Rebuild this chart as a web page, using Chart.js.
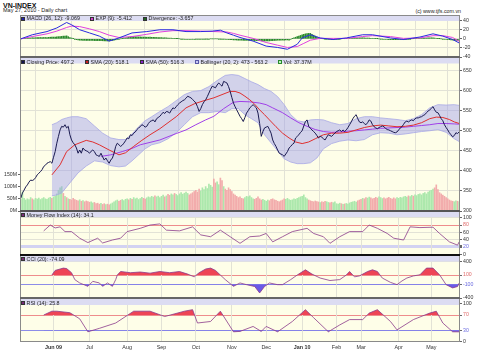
<!DOCTYPE html>
<html><head><meta charset="utf-8">
<script src="https://cdn.jsdelivr.net/npm/chart.js@4.4.1/dist/chart.umd.min.js"></script>
<style>
html,body{margin:0;padding:0;background:#fff;width:480px;height:357px;overflow:hidden;font-family:"Liberation Sans",Arial,sans-serif}
#wrap{position:relative;width:480px;height:357px}
canvas{position:absolute;left:0}
.t{position:absolute;white-space:nowrap;color:#111;line-height:1}
.leg{position:absolute;height:6px;font-size:5.3px;line-height:6px;color:#222;white-space:nowrap}
.sq{display:inline-block;width:4px;height:4px;margin-right:1.6px;vertical-align:-0.3px;box-sizing:border-box;border:0.6px solid #333}
</style></head>
<body><div id="wrap">
<div class="t" style="left:3px;top:1.5px;font-size:7px;font-weight:bold">VN-INDEX</div>
<div class="t" style="left:3px;top:8px;font-size:5.5px;color:#222">May 27, 2010 - Daily chart</div>
<div class="t" style="right:19px;top:8.5px;font-size:5.3px;color:#222">(c) www.tjfs.com.vn</div>
</div>
<script>
// ---------- DATA (one entry per trading day, May 2009 - May 27, 2010) ----------
const monthDays = [20,42,65,86,107,129,150,172,193,208,231,251];
const monthLabels = ['Jun 09','Jul','Aug','Sep','Oct','Nov','Dec','Jan 10','Feb','Mar','Apr','May'];

const closePrice = [
 332,345,352,360,365,372,377,376,378,383,390,394,398,403,411,414,419,421,423,419,
 434,448,469,486,502,511,509,515,507,511,490,477,470,465,457,444,452,444,457,452,450,448,
 444,449,452,448,440,438,436,444,435,427,432,425,419,427,432,444,461,469,465,461,464,469,475,
 482,480,490,488,494,497,503,507,510,515,513,509,511,518,523,525,527,522,530,533,536,
 541,546,543,548,547,544,551,557,555,560,565,569,572,575,577,581,586,584,582,578,574,
 569,560,548,555,565,572,577,585,594,603,611,609,607,614,619,615,611,623,621,619,610,598,
 583,569,560,552,544,536,530,523,533,544,550,557,561,565,561,557,544,518,486,498,507,
 509,511,503,494,477,468,461,452,444,442,440,436,442,448,457,461,466,469,482,486,490,496,
 500,512,523,527,511,506,502,498,494,488,482,486,484,480,477,484,490,488,486,490,494,
 498,500,502,498,502,498,502,508,515,522,530,536,540,530,522,
 520,522,518,515,520,527,524,515,510,507,505,508,510,512,510,506,503,502,500,498,496,495,497,
 502,507,510,516,522,524,522,525,527,525,530,532,532,534,535,538,540,545,549,552,
 556,560,552,546,545,538,530,525,515,508,502,495,490,485,488,495,493,497.2];

const volumeM = [
 48,78,52,45,50,47,55,50,46,52,49,53,47,51,55,50,48,53,56,52,
 58,62,70,85,95,100,72,60,55,50,48,45,52,47,44,42,46,40,43,38,41,39,
 36,38,33,35,30,32,28,31,27,30,26,28,25,29,33,38,42,45,40,44,47,43,48,
 50,46,52,48,55,50,53,47,51,56,52,49,54,58,55,60,57,62,58,61,55,
 60,65,58,62,68,64,70,66,72,68,63,70,75,69,73,78,72,66,70,75,80,
 85,78,90,82,95,88,100,92,110,105,98,131,115,120,108,135,125,100,90,85,95,88,
 80,70,65,60,55,58,52,50,55,60,58,62,55,50,48,52,58,50,45,48,44,
 40,45,42,48,50,46,44,40,38,42,45,50,48,52,47,44,46,50,48,52,55,58,
 60,66,55,50,45,42,40,38,41,39,37,35,38,36,40,38,35,33,36,34,38,
 30,28,32,30,27,29,31,28,33,36,38,40,37,42,45,
 48,52,50,55,53,57,54,50,52,56,53,58,55,51,54,50,53,56,52,49,54,50,55,
 52,56,54,58,60,57,62,59,64,61,66,63,68,70,66,72,75,70,78,82,
 85,90,95,107,88,75,70,65,60,55,50,45,42,40,38,42,40,37.37];

// [trading day, value]
const sma20 = [[19,390],[24,415],[28,448],[33,465],[40,476],[44,472],[48,465],[54,452],[60,440],[64,445],[69,461],[74,476],[79,490],[85,505],[90,520],[95,535],[101,557],[106,567],[112,575],[118,582],[123,590],[128,598],[131,598],[134,594],[137,586],[140,577],[143,566],[146,552],[149,540],[152,527],[156,510],[160,494],[164,482],[168,472],[172,468],[176,472],[180,480],[185,490],[190,494],[195,494],[200,496],[205,502],[210,508],[215,512],[220,514],[225,512],[230,510],[235,511],[240,514],[245,520],[250,530],[254,534],[258,533],[262,528],[265,522],[268,518.1]];
const sma50 = [[49,436],[55,440],[62,448],[68,456],[73,465],[79,471],[85,477],[90,485],[95,493],[101,502],[107,515],[113,527],[118,536],[124,555],[130,571],[134,573],[140,572],[146,569],[150,565],[154,557],[160,545],[165,532],[170,520],[175,511],[180,503],[185,498],[190,496],[195,497],[200,499],[205,500],[210,502],[215,504],[220,506],[225,507],[230,508],[235,509],[240,511],[245,513],[250,515],[255,518],[260,518],[265,517],[268,516.3]];
const bbUpper = [[19,515],[22,520],[25,528],[28,532],[31,535],[35,535],[40,530],[45,512],[50,494],[55,482],[60,478],[64,478],[68,492],[72,510],[76,525],[80,535],[85,548],[90,560],[95,575],[100,590],[105,598],[110,600],[115,610],[120,625],[125,638],[129,640],[133,638],[137,630],[141,622],[145,615],[149,605],[153,598],[157,585],[161,565],[165,540],[169,525],[173,522],[177,527],[181,528],[185,527],[190,520],[195,515],[200,518],[205,530],[210,535],[215,535],[220,532],[225,530],[230,528],[235,525],[240,530],[245,540],[250,557],[255,565],[260,564],[265,565],[268,563.2]];
const bbLower = [[19,338],[22,340],[25,345],[28,360],[31,375],[35,395],[40,412],[45,425],[50,422],[55,413],[60,410],[64,412],[68,425],[72,440],[76,455],[80,465],[85,470],[90,480],[95,495],[100,515],[105,535],[110,545],[115,545],[120,548],[125,545],[129,555],[133,555],[137,540],[141,530],[145,520],[149,490],[153,470],[157,450],[161,430],[165,422],[169,418],[173,418],[177,420],[181,432],[185,455],[190,468],[195,474],[200,477],[205,475],[210,478],[215,490],[220,495],[225,494],[230,490],[235,492],[240,495],[245,498],[250,500],[255,503],[260,496],[265,480],[268,473]];

const macdLine = [[0,0],[7,9],[16,16],[22,24],[28,36],[31,31],[36,20],[42,13],[48,6],[54,-5],[60,2],[68,13],[77,16],[85,20],[93,20],[101,16],[110,16],[117,17],[122,19],[126,13],[130,8],[134,3],[142,-5],[150,-16],[157,-19],[163,-23],[169,-12],[172,2],[177,9],[183,2],[191,-1.5],[199,2],[209,9],[215,9],[226,2],[234,-1.5],[244,4],[252,11],[258,6],[264,-1.5],[268,-9.069]];
const macdSignal = [[0,0],[7,5],[16,11],[22,17],[28,25],[31,28],[36,27],[42,22],[48,16],[54,8],[60,3],[68,5],[77,10],[85,15],[93,18],[101,18],[110,17],[118,16],[126,15],[130,12],[134,8],[142,1],[150,-8],[157,-14],[163,-19],[169,-17],[173,-10],[177,-3],[183,1],[191,1],[199,1],[209,5],[215,7],[226,5],[234,1],[244,2],[252,7],[258,7],[264,3],[268,-5.412]];
const macdDiv = [
 0,0.3,0.6,0.9,1.2,1.5,1.8,2.4, 2.4,2.4,2.7,2.7,3,3,3,3,3, 3.3,3.6,3.6,3.9,3.9,4.2, 4.8,5.1,5.4,6,6.3,6.6, 4.8,3,1.8, 0.6,-0.6,-1.8,-2.4,-3,
 -3,-3.3,-3.3,-3.6,-3.6,-3.6, -3.6,-3.6,-3.9,-3.9,-3.9,-3.9, -4.2,-4.2,-4.5,-4.5,-4.8,-4.8, -4.2,-3.6,-3,-2.1,-1.2,-0.6,
 0,0.6,1.5,2.1,3,3.6,4.2,4.8, 4.8,4.5,4.5,4.2,4.2,3.9,3.9,3.6,3.6, 3.6,3.6,3.3,3.3,3.3,3,3,3, 2.7,2.4,2.4,2.1,1.8,1.5,1.5,1.2,
 0.9,0.6,0.3,0,-0.3,-0.6,-0.9,-1.2, -1.2,-1.2,-0.9,-0.9,-0.9,-0.6,-0.6,-0.6,-0.6, -0.6,-0.6,-0.3,-0.3,-0.3,0,0,0,
 0,0,-0.3,-0.3,-0.6,-0.6,-0.9,-1.2, -1.5,-1.8,-2.1,-2.4,-2.4,-2.7,-3,-3, -3,-3.3,-3.3,-3.3,-3.6,-3.6,-3.6,-3.6,
 -3.9,-3.9,-4.2,-4.2,-4.5,-4.5,-4.8,-4.8, -4.8,-4.5,-4.2,-3.9,-3.6,-3.3,-3, -3,-3,-2.7,-2.7,-2.4,-2.4,
 -3,-1,0.5,2,3.5,5, 6,7.5,9,10,11,11.5,12,12, 10,8,6,4,2.5,1, 0.3,0,-0.3,-0.6,-0.9,-1.2,-1.5,-1.5,
 -1.2,-0.9,-0.6,-0.3,0,0.3,0.3,0.6, 0.9,0.9,1.2,1.2,1.5,1.8,1.8,2.1,2.1,2.4, 2.1,1.8,1.8,1.5,1.2,1.2,
 0.9,0.6,0.3,0,-0.3,-0.6,-0.9,-1.2,-1.5,-1.8,-1.8, -1.8,-1.8,-1.8,-1.8,-1.5,-1.5,-1.5,-1.5,
 -1.2,-0.9,-0.6,-0.3,0,0.3,0.6,0.9,1.2,1.2, 1.5,1.5,1.8,1.8,2.1,2.1,2.4,2.4, 1.8,1.2,0.6,0.3,0,-0.6,
 -0.9,-1.2,-1.5,-1.8,-2.4,-2.7, -3.2,-3.5,-3.6,-3.657];

const mfi = [[14,64],[18,80],[21,72],[24,75],[27,62],[31,62],[36,44],[41,32],[47,44],[50,31],[56,39],[61,44],[65,62],[73,71],[79,80],[85,83],[89,66],[97,64],[105,75],[110,53],[116,48],[122,66],[128,48],[134,30],[140,48],[146,50],[150,57],[154,34],[160,48],[166,62],[175,71],[179,57],[185,48],[189,30],[195,48],[201,62],[209,62],[213,80],[218,71],[224,57],[228,44],[234,39],[238,75],[244,73],[252,74],[256,57],[262,34],[267,25],[268,34.1]];
const cci = [[19,100],[21,200],[24,230],[26,250],[28,240],[31,150],[33,0],[36,-73],[41,-146],[44,-38],[48,-73],[50,-146],[53,-73],[56,-146],[58,0],[59,100],[61,176],[67,150],[73,165],[79,140],[85,176],[91,150],[97,176],[102,120],[106,60],[109,150],[113,230],[116,250],[119,200],[122,100],[125,0],[130,-146],[134,-73],[138,-110],[143,-150],[146,-290],[149,-150],[152,-73],[157,-110],[160,-110],[165,0],[169,100],[174,213],[178,120],[183,34],[189,-20],[195,0],[199,100],[201,176],[204,60],[207,80],[212,176],[215,213],[218,176],[221,34],[226,-60],[230,-110],[233,-30],[236,34],[240,80],[244,105],[248,250],[252,250],[256,105],[260,-110],[264,-180],[267,-150],[268,-74.09]];
const rsi = [[14,70],[19,80],[22,80],[30,76],[36,60],[41,26],[48,35],[58,49],[69,80],[79,80],[88,66],[100,80],[105,84],[108,49],[116,53],[122,80],[130,26],[134,27],[142,40],[147,27],[150,40],[157,26],[166,53],[174,84],[179,63],[188,26],[195,44],[201,58],[209,58],[213,75],[218,84],[226,53],[230,31],[240,58],[250,75],[254,80],[258,49],[264,26],[268,25.8]];

// ---------- RENDER ----------
const dayCount = closePrice.length;
const FONT = '"Liberation Sans", Arial, sans-serif';
const wrap = document.getElementById('wrap');
const pts = a => a.map(p => ({x:p[0], y:p[1]}));
const daily = (a, k) => a.map((v, i) => ({x:i, y:v * (k || 1)}));

const panelPlugin = {
  id:'panelBg',
  beforeDraw(chart, args, o){
    const {ctx, chartArea:a} = chart;
    ctx.save(); ctx.fillStyle = '#fefee8';
    ctx.fillRect(a.left, a.top, a.width, a.height); ctx.restore();
  },
  beforeDatasetsDraw(chart, args, o){
    const {ctx, chartArea:a} = chart;
    ctx.save(); ctx.fillStyle = '#dcdcf2';
    ctx.fillRect(a.left, a.top, a.width, o.band || 6); ctx.restore();
  },
  afterDraw(chart, args, o){
    const {ctx, chartArea:a} = chart;
    ctx.save();
    ctx.strokeStyle = '#8a8a8a'; ctx.lineWidth = 1;
    ctx.strokeRect(a.left + 0.5, a.top + 0.5, a.width - 1, a.height - 1);
    if (o.topLine) {
      ctx.strokeStyle = o.topLine.color; ctx.lineWidth = o.topLine.width;
      ctx.beginPath(); ctx.moveTo(a.left, a.top); ctx.lineTo(a.right, a.top); ctx.stroke();
    }
    ctx.restore();
  }
};

function xScale(isLast, bottom){
  return {
    type:'linear', min:-0.5, max:dayCount-0.5, offset:false,
    afterBuildTicks(s){ s.ticks = monthDays.map(v => ({value:v})); },
    afterFit(s){ s.height = isLast ? 357 - bottom : 0; },
    grid:{color:'#e2e2d6', lineWidth:1, drawTicks:false},
    border:{display:false},
    ticks:{display:isLast, padding:2, maxRotation:0, autoSkip:false, color:'#333',
      font: c => ({size:5.4, family:FONT, weight:(c.tick && (c.tick.value===20 || c.tick.value===172)) ? 'bold' : 'normal'}),
      callback: v => monthLabels[monthDays.indexOf(v)] }
  };
}

function yRight(min, max, ticks, opt){
  opt = opt || {};
  return {
    position:'right', min, max,
    afterBuildTicks(s){ s.ticks = ticks.map(v => ({value:v})); },
    afterFit(s){ s.width = 20; },
    grid:{ color: c => (opt.gridColor && opt.gridColor(c.tick.value)) || '#e2e2d6',
           lineWidth: c => (opt.gridWidth && opt.gridWidth(c.tick.value)) || 1,
           tickLength:2, tickColor:'#666' },
    border:{display:false},
    ticks:{padding:1, autoSkip:false, color: c => (opt.labelColor && opt.labelColor(c.tick.value)) || '#333',
           font:{size:5.2, family:FONT}, callback: v => String(v)}
  };
}

function panel(top, bottom, datasets, scales, plug, isLast, padLeft){
  const cTop = top - 10;
  const cH = (isLast ? 357 : bottom + 10) - cTop;
  const cv = document.createElement('canvas');
  cv.width = 480; cv.height = cH;
  cv.style.top = cTop + 'px'; cv.style.width = '480px'; cv.style.height = cH + 'px';
  wrap.appendChild(cv);
  scales.x = xScale(isLast, bottom);
  return new Chart(cv, {
    data:{datasets},
    options:{
      responsive:false, animation:false, devicePixelRatio:1,
      layout:{padding:{top:10, bottom:isLast ? 0 : 10, left:padLeft, right:0}},
      plugins:{legend:{display:false}, tooltip:{enabled:false}, panelBg:plug},
      elements:{point:{radius:0}, line:{tension:0}},
      scales
    },
    plugins:[panelPlugin]
  });
}

function legend(y, items){
  items.forEach(it => {
    const d = document.createElement('div');
    d.className = 'leg';
    d.style.left = it.x + 'px'; d.style.top = (y - 3) + 'px';
    d.innerHTML = '<span class="sq" style="background:' + it.c + ';border-color:' + (it.b || '#333') + '"></span>' + it.t;
    wrap.appendChild(d);
  });
}

const redT = '#ee8c8c', blueT = '#8c8ce8';
const lineIndic = '#8a3a8a';

// MACD
panel(15, 57, [
  {type:'bar', data:daily(macdDiv), backgroundColor:'#2a8a2a', barThickness:0.9, order:5},
  {type:'line', data:pts(macdSignal), borderColor:'#e040e0', borderWidth:1, order:2},
  {type:'line', data:pts(macdLine), borderColor:'#2a2ae0', borderWidth:1, order:1}
], {y: yRight(-40, 52.5, [-40,-20,0,20,40])}, {band:6}, false, 20);

// PRICE + VOLUME
panel(57, 211, [
  {type:'bar', yAxisID:'vol', data:daily(volumeM, 1e6),
   backgroundColor: closePrice.map((c, i) => (i === 0 || c >= closePrice[i-1]) ? '#ace8ac' : '#f2acac'),
   barThickness:1, order:10},
  {type:'line', yAxisID:'y', data:pts(bbUpper), borderColor:'#a8a8e6', borderWidth:0.8, backgroundColor:'rgba(150,150,235,0.42)', fill:'+1', order:8},
  {type:'line', yAxisID:'y', data:pts(bbLower), borderColor:'#a8a8e6', borderWidth:0.8, fill:false, order:7},
  {type:'line', yAxisID:'y', data:pts(sma50), borderColor:'#a040e8', borderWidth:1, order:4},
  {type:'line', yAxisID:'y', data:pts(sma20), borderColor:'#e03030', borderWidth:1, order:3},
  {type:'line', yAxisID:'y', data:daily(closePrice), borderColor:'#1a1a50', borderWidth:1, order:1}
], {
  y: yRight(300, 683.75, [300,350,400,450,500,550,600,650]),
  vol: {position:'left', min:0, max:631e6,
    afterBuildTicks(s){ s.ticks = [0,50e6,100e6,150e6].map(v => ({value:v})); },
    afterFit(s){ s.width = 20; },
    grid:{drawOnChartArea:false, tickLength:2, tickColor:'#666'}, border:{display:false},
    ticks:{padding:1, autoSkip:false, color:'#333', font:{size:5.2, family:FONT}, callback: v => (v/1e6) + 'M'}}
}, {band:6.5, topLine:{color:'#666', width:2}}, false, 0);

// MFI
panel(211, 255, [
  {type:'line', data:pts(mfi), borderColor:lineIndic, borderWidth:0.8}
], {y: yRight(-1.9, 118.3, [0,20,40,60,80,100], {
  gridColor: v => v===80 ? redT : v===20 ? '#d2d2f2' : null,
  gridWidth: v => v===20 ? 3 : 1,
  labelColor: v => v===80 ? '#e06a6a' : v===20 ? '#6a6ae0' : null })},
  {band:6, topLine:{color:'#444', width:1.5}}, false, 20);

// CCI
panel(255, 298, [
  {type:'line', data:pts(cci), borderWidth:0, fill:{target:{value:100}, above:'#ee4455', below:'rgba(0,0,0,0)'}, order:3},
  {type:'line', data:pts(cci), borderWidth:0, fill:{target:{value:-100}, above:'rgba(0,0,0,0)', below:'#6a5ae6'}, order:2},
  {type:'line', data:pts(cci), borderColor:lineIndic, borderWidth:0.8, order:1}
], {y: yRight(-400, 535, [-400,-100,100,400], {
  gridColor: v => v===100 ? redT : v===-100 ? blueT : null,
  labelColor: v => v===100 ? '#e06a6a' : v===-100 ? '#6a6ae0' : null })},
  {band:6.5, topLine:{color:'#111', width:2}}, false, 20);

// RSI
panel(298, 342, [
  {type:'line', data:pts(rsi), borderWidth:0, fill:{target:{value:70}, above:'#ee4455', below:'rgba(0,0,0,0)'}, order:3},
  {type:'line', data:pts(rsi), borderWidth:0, fill:{target:{value:30}, above:'rgba(0,0,0,0)', below:'#6a5ae6'}, order:2},
  {type:'line', data:pts(rsi), borderColor:lineIndic, borderWidth:0.8, order:1}
], {y: yRight(-0.8, 114.6, [0,30,70,100], {
  gridColor: v => v===70 ? redT : v===30 ? blueT : null,
  labelColor: v => v===70 ? '#e06a6a' : v===30 ? '#6a6ae0' : null })},
  {band:7, topLine:{color:'#666', width:2}}, true, 20);

legend(18.3, [
  {x:21, c:'#2020b0', t:'MACD (26, 12): -9.069'},
  {x:90, c:'#d040d0', t:'EXP (9): -5.412'},
  {x:143, c:'#226622', t:'Divergence: -3.657'}]);
legend(62, [
  {x:21, c:'#141450', t:'Closing Price: 497.2'},
  {x:85, c:'#cc2020', t:'SMA (20): 518.1'},
  {x:140, c:'#8a22cc', t:'SMA (50): 516.3'},
  {x:195, c:'#cacaf2', b:'#5a5aa8', t:'Bollinger (20, 2): 473 - 563.2'},
  {x:278, c:'#bff0bf', b:'#2a8a2a', t:'Vol: 37.37M'}]);
legend(214.8, [{x:21, c:'#7a2a7a', t:'Money Flow Index (14): 34.1'}]);
legend(258.6, [{x:21, c:'#7a2a7a', t:'CCI (20): -74.09'}]);
legend(302.8, [{x:21, c:'#7a2a7a', t:'RSI (14): 25.8'}]);
</script>
</body></html>
